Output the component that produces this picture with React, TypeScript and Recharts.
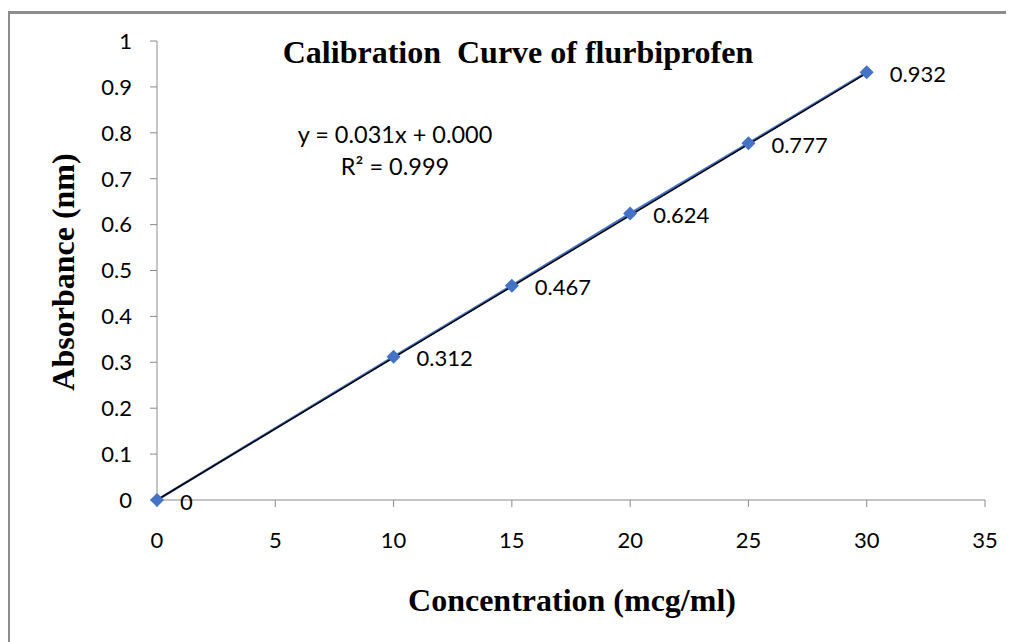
import {
	ComposedChart,
	Customized,
	Line,
	XAxis,
	YAxis,
} from "recharts";

const concentrations = [0, 10, 15, 20, 25, 30];
const absorbances = [0, 0.312, 0.467, 0.624, 0.777, 0.932];
const xTicks = [0, 5, 10, 15, 20, 25, 30, 35];
const yTicks = [0, 0.1, 0.2, 0.3, 0.4, 0.5, 0.6, 0.7, 0.8, 0.9, 1];
// linear trendline as reported by the fit: y = 0.031x + 0.000
const trendX = [0, 30];
const trendY = [0, 0.93];

const points = concentrations.map((x, i) => ({ x, y: absorbances[i] }));
const trend = trendX.map((x, i) => ({ x, y: trendY[i] }));

const BLUE = "#4472C4";
const AXIS = "#8a8a8a";
const SANS = "Lato, 'Open Sans', sans-serif";
const SERIF = "'Liberation Serif', 'Times New Roman', serif";

const Diamond = (props: any) => {
	const { cx, cy } = props;
	if (cx == null || cy == null) return null;
	const r = 7;
	return (
		<path
			d={`M${cx},${cy - r}L${cx + r},${cy}L${cx},${cy + r}L${cx - r},${cy}Z`}
			fill={BLUE}
		/>
	);
};

const PointLabel = (props: any) => {
	const { x, y, value } = props;
	return (
		<text
			x={x + 23}
			y={y + 1}
			fontSize={22}
			fontFamily={SANS}
			fill="#000"
			dominantBaseline="central"
		>
			{String(value)}
		</text>
	);
};

const Titles = () => (
	<g>
		<text
			x={510}
			y={55}
			textAnchor="middle"
			fontSize={32}
			fontWeight="bold"
			fontFamily={SERIF}
			xmlSpace="preserve"
		>
			Calibration  Curve of flurbiprofen
		</text>
		<text
			x={387}
			y={126}
			textAnchor="middle"
			dominantBaseline="central"
			fontSize={23.5}
			fontFamily={SANS}
		>
			y = 0.031x + 0.000
		</text>
		<text
			x={387}
			y={158}
			textAnchor="middle"
			dominantBaseline="central"
			fontSize={23.5}
			fontFamily={SANS}
		>
			R² = 0.999
		</text>
		<text
			transform="translate(55,264) rotate(-90)"
			textAnchor="middle"
			dominantBaseline="central"
			fontSize={32}
			fontWeight="bold"
			fontFamily={SERIF}
		>
			Absorbance (nm)
		</text>
		<text
			x={564}
			y={603}
			textAnchor="middle"
			fontSize={32}
			fontWeight="bold"
			fontFamily={SERIF}
		>
			Concentration (mcg/ml)
		</text>
	</g>
);

export default function App() {
	return (
		<div style={{ position: "relative", width: 1006, height: 634 }}>
			<div
				style={{
					position: "absolute",
					left: -1,
					top: 3,
					width: 1020,
					height: 640,
					borderTop: "3px solid #8c8c8c",
					borderLeft: "3px solid #8c8c8c",
				}}
			/>
			<div style={{ position: "absolute", left: 0, top: 0 }}>
				<ComposedChart
					width={1006}
					height={634}
					margin={{ top: 33, right: 29, bottom: 0, left: 0 }}
				>
					<XAxis
						type="number"
						dataKey="x"
						domain={[0, 35]}
						ticks={xTicks}
						height={142}
						stroke={AXIS}
						tickSize={7}
						tickMargin={25}
						tick={{ fill: "#000", fontSize: 22, fontFamily: SANS }}
					/>
					<YAxis
						type="number"
						dataKey="y"
						domain={[0, 1]}
						ticks={yTicks}
						width={149}
						stroke={AXIS}
						tickSize={7}
						tickMargin={18}
						tick={{ fill: "#000", fontSize: 22, fontFamily: SANS }}
					/>
					<Line
						data={points}
						dataKey="y"
						type="linear"
						stroke={BLUE}
						strokeWidth={2.5}
						dot={<Diamond />}
						label={<PointLabel />}
						isAnimationActive={false}
					/>
					<Line
						data={trend}
						dataKey="y"
						type="linear"
						stroke="#000"
						strokeWidth={1.5}
						dot={false}
						isAnimationActive={false}
					/>
					<Customized component={Titles} />
				</ComposedChart>
			</div>
		</div>
	);
}
